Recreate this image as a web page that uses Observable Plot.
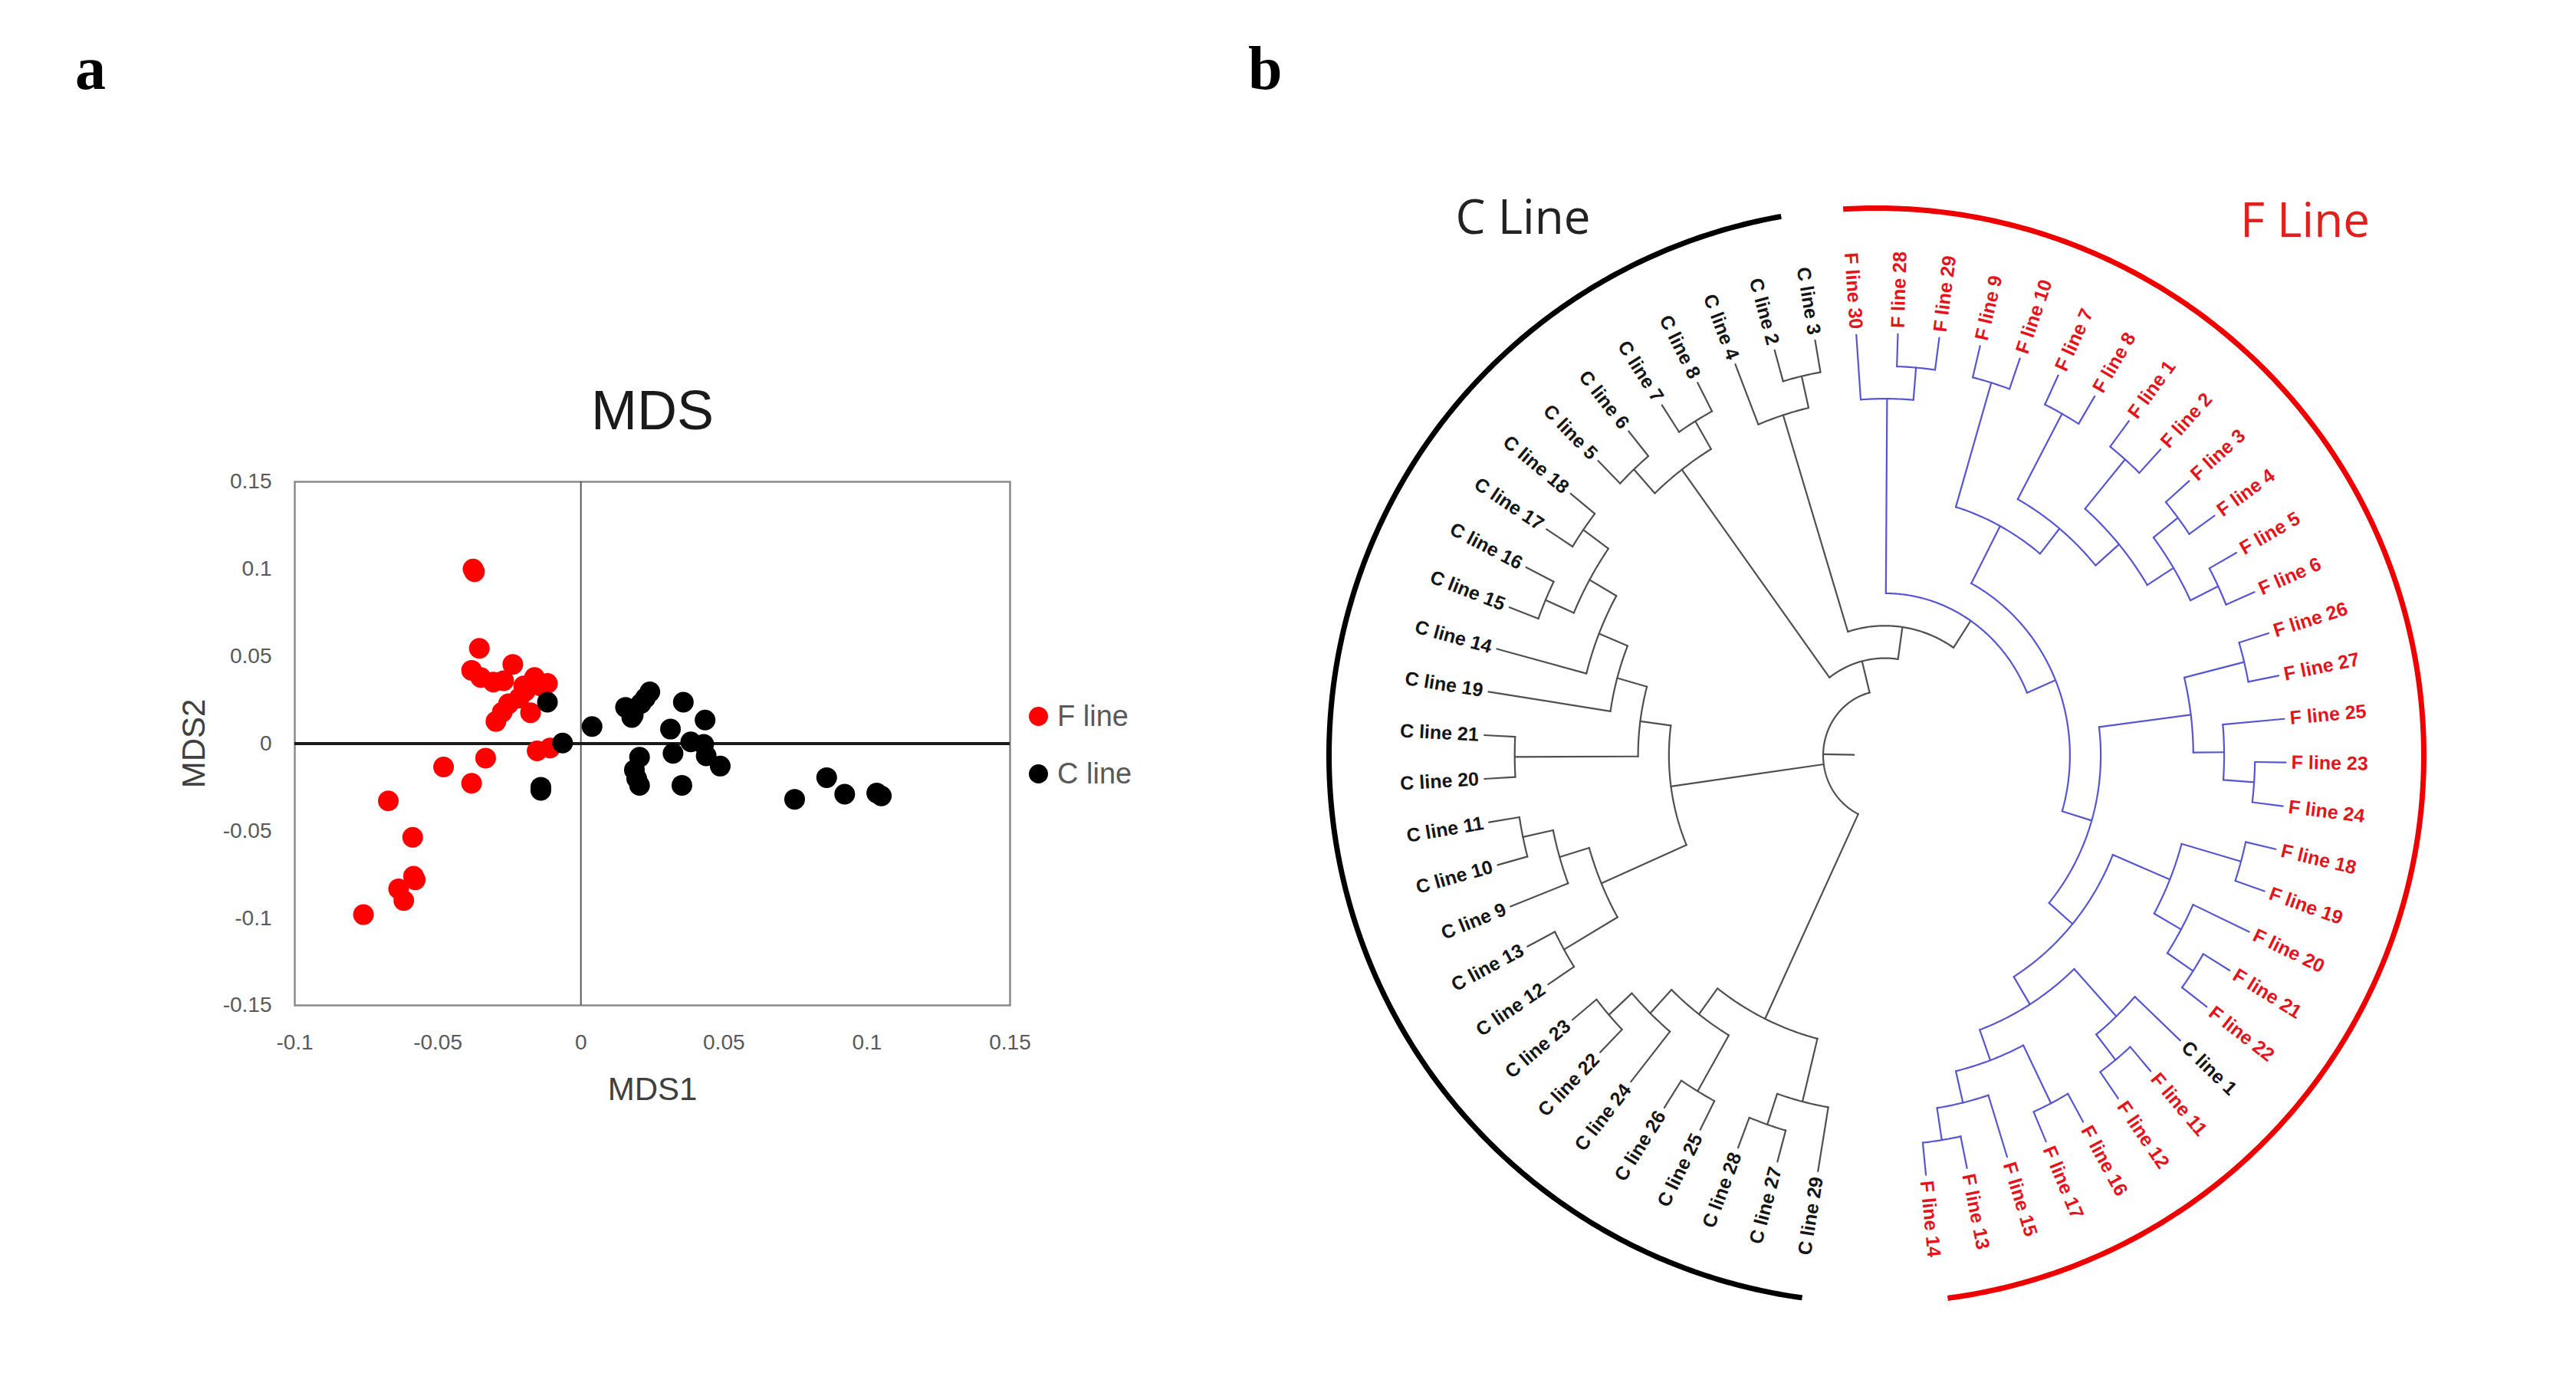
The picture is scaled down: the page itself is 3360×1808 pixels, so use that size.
<!DOCTYPE html>
<html>
<head>
<meta charset="utf-8">
<script src="https://cdn.jsdelivr.net/npm/d3@7"></script>
<script src="https://cdn.jsdelivr.net/npm/@observablehq/plot@0.6"></script>
<style>
html,body{margin:0;padding:0;background:#fff;}
body{width:3360px;height:1808px;position:relative;overflow:hidden;font-family:"Liberation Sans",Arial,sans-serif;}
.abs{position:absolute;}
.leg{position:absolute;left:1342px;display:flex;align-items:center;height:40px;font-size:38px;color:#595959;font-family:"Liberation Sans",Arial,sans-serif;}
.leg .sw{display:inline-block;width:25px;height:25px;border-radius:50%;margin-right:12px;}
</style>
</head>
<body>
<svg class="abs" style="left:0;top:0" width="3360" height="1808">
  <text x="98" y="116" font-family="Liberation Serif, Times New Roman, serif" font-weight="bold" font-size="80" fill="#000">a</text>
  <text x="1628" y="116" font-family="Liberation Serif, Times New Roman, serif" font-weight="bold" font-size="80" fill="#000">b</text>
</svg>
<div id="mds" class="abs" style="left:200px;top:440px;width:1350px;height:1040px"></div>
<div id="tree" class="abs" style="left:1650px;top:180px;width:1650px;height:1610px"></div>
<div class="leg" style="top:914px"><span class="sw" style="background:#ff0000"></span>F line</div>
<div class="leg" style="top:989px"><span class="sw" style="background:#000000"></span>C line</div>
<script>
// ================= Panel a : MDS data =================
const fLineMDS1 = [-0.0377,-0.0372,-0.0355,-0.0238,-0.0382,-0.0350,-0.0306,-0.0270,-0.0162,-0.0117,-0.0140,-0.0216,-0.0253,-0.0275,-0.0297,-0.0176,-0.0153,-0.0108,-0.0333,-0.0480,-0.0382,-0.0673,-0.0588,-0.0579,-0.0637,-0.0619,-0.0760,-0.0195,-0.0200,-0.0585];
const fLineMDS2 = [0.1000,0.0985,0.0546,0.0454,0.0420,0.0379,0.0353,0.0360,0.0379,0.0345,0.0330,0.0260,0.0228,0.0180,0.0127,0.0177,-0.0042,-0.0025,-0.0083,-0.0134,-0.0227,-0.0328,-0.0537,-0.0780,-0.0832,-0.0899,-0.0980,0.0300,0.0330,-0.0760];
const cLineMDS1 = [-0.0117,-0.0064,-0.0140,-0.0140,0.0039,0.0156,0.0183,0.0241,0.0210,0.0178,0.0358,0.0313,0.0434,0.0384,0.0429,0.0322,0.0438,0.0487,0.0205,0.0187,0.0205,0.0353,0.0747,0.0859,0.0922,0.1034,0.1050,0.0225,0.0195];
const cLineMDS2 = [0.0237,0.0003,-0.0268,-0.0250,0.0098,0.0208,0.0164,0.0296,0.0230,0.0149,0.0237,0.0083,0.0135,0.0010,-0.0004,-0.0056,-0.0070,-0.0129,-0.0078,-0.0151,-0.0239,-0.0239,-0.0319,-0.0195,-0.0290,-0.0283,-0.0300,0.0260,-0.0200];
const xTicks = [-0.1,-0.05,0,0.05,0.1,0.15];
const yTicks = [-0.15,-0.1,-0.05,0,0.05,0.1,0.15];

// ================= Panel b : dendrogram topology (leaf order clockwise from bottom) =================
const cladeCLower  = "((C29,(C27,C28)),((C25,C26),(C24,(C22,C23))))";
const cladeCMiddle = "(((C12,C13),(C9,(C10,C11))),((C20,C21),(C19,(C14,((C15,C16),(C17,C18))))))";
const cladeCUpperA = "((C5,C6),(C7,C8))";
const cladeCUpperB = "(C4,(C2,C3))";
const cladeFTop    = "(F30,(F28,F29))";
const cladeF1to10  = "((F9,F10),((F7,F8),((F1,F2),((F3,F4),(F5,F6)))))";
const cladeF23to27 = "((F26,F27),(F25,(F23,F24)))";
const cladeF11to22 = "(((F18,F19),(F20,(F21,F22))),((C1,(F11,F12)),((F16,F17),(F15,(F13,F14)))))";
const groupNames = ["C Line", "F Line"];

// ---------- scatter ----------
const fData = fLineMDS1.map((x, i) => ({x, y: fLineMDS2[i]}));
const cData = cLineMDS1.map((x, i) => ({x, y: cLineMDS2[i]}));
const fmt = d => String(d);

const mds = Plot.plot({
  width: 1350, height: 1040,
  marginLeft: 184, marginRight: 233, marginTop: 188, marginBottom: 169,
  style: {background: "transparent", fontFamily: "Liberation Sans, Arial, sans-serif", maxWidth: "none", overflow: "visible"},
  x: {domain: [-0.1, 0.15]},
  y: {domain: [-0.15, 0.15]},
  marks: [
    Plot.frame({stroke: "#8a8a8a", strokeWidth: 2.5}),
    Plot.ruleX([0], {stroke: "#5a5a5a", strokeWidth: 2}),
    Plot.ruleY([0], {stroke: "#1a1a1a", strokeWidth: 4}),
    Plot.dot(fData, {x: "x", y: "y", r: 13.5, fill: "#ff0000"}),
    Plot.dot(cData, {x: "x", y: "y", r: 13.5, fill: "#000000"}),
    Plot.axisX(xTicks, {tickSize: 0, tickPadding: 38, fontSize: 28, color: "#595959", tickFormat: fmt, label: null}),
    Plot.axisY(yTicks, {tickSize: 0, tickPadding: 30, fontSize: 28, color: "#595959", tickFormat: fmt, label: null}),
    Plot.text(["MDS"], {frameAnchor: "top", dy: -92, text: d => d, fontSize: 72, fill: "#1a1a1a", textAnchor: "middle", lineAnchor: "middle"}),
    Plot.text(["MDS1"], {frameAnchor: "bottom", dy: 110, text: d => d, fontSize: 42, fill: "#404040", textAnchor: "middle", lineAnchor: "middle"}),
    Plot.text(["MDS2"], {frameAnchor: "left", dx: -131, rotate: -90, text: d => d, fontSize: 42, fill: "#404040", textAnchor: "middle", lineAnchor: "middle"})
  ]
});
document.getElementById("mds").appendChild(mds);

// ---------- dendrogram layout ----------
function parseNewick(s) {
  let i = 0;
  function node() {
    if (s[i] === "(") {
      i++;
      const children = [];
      while (true) {
        children.push(node());
        if (s[i] === ",") { i++; continue; }
        if (s[i] === ")") { i++; break; }
        throw new Error("bad newick at " + i);
      }
      return {children};
    }
    const j = i;
    while (i < s.length && !",()".includes(s[i])) i++;
    return {name: s.slice(j, i)};
  }
  return node();
}
const cladeF = `(${cladeFTop},(${cladeF1to10},(${cladeF23to27},${cladeF11to22})))`;
const treeNewick = `(${cladeCLower},${cladeCMiddle},(${cladeCUpperA},(${cladeCUpperB},${cladeF})))`;
const root = parseNewick(treeNewick);

const firstLeafAngle = 189.6; // degrees clockwise from top
const leafStep = 5.94;

const leaves = [];
(function walk(n) { if (n.children) n.children.forEach(walk); else { n.idx = leaves.length; leaves.push(n); } })(root);
(function height(n) { return n.h = n.children ? 1 + Math.max(...n.children.map(height)) : 0; })(root);
(function ang(n) { return n.a = n.children ? d3.mean(n.children.map(ang)) : firstLeafAngle + n.idx * leafStep; })(root);
(function countF(n) { return n.nf = n.children ? d3.sum(n.children.map(countF)) : (n.name[0] === "F" ? 1 : 0); })(root);
(function countL(n) { return n.nl = n.children ? d3.sum(n.children.map(countL)) : 1; })(root);
const totalF = root.nf;
let fRoot = root;
(function findF(n) { if (n.nf === totalF && n.nl < fRoot.nl) fRoot = n; if (n.children) n.children.forEach(findF); })(root);

const depthUnits = root.h + 2;
const rho = n => 1 - n.h / depthUnits;
const pol = (r, a) => { const t = a * Math.PI / 180; return [r * Math.sin(t), r * Math.cos(t)]; };

const branches = [];
let sid = 0;
function addRadial(r0, r1, a, color) {
  const id = sid++;
  const [x0, y0] = pol(r0, a), [x1, y1] = pol(r1, a);
  branches.push({id, x: x0, y: y0, color}, {id, x: x1, y: y1, color});
}
function addArc(r, a0, a1, color) {
  const id = sid++;
  const n = Math.max(2, Math.ceil(Math.abs(a1 - a0) / 0.5));
  for (let k = 0; k <= n; k++) {
    const [x, y] = pol(r, a0 + (a1 - a0) * k / n);
    branches.push({id, x, y, color});
  }
}
const GRAY = "#4f4f4f", BLUE = "#5656d0";
function build(n, parent, inF) {
  const here = inF || n === fRoot;
  if (parent) addRadial(rho(parent), n.children ? rho(n) : 1, n.a, inF ? BLUE : GRAY);
  if (n.children) {
    const as = n.children.map(c => c.a);
    addArc(rho(n), d3.min(as), d3.max(as), here ? BLUE : GRAY);
    n.children.forEach(c => build(c, n, here));
  }
}
build(root, null, false);
// root edge stub
addRadial(1 - (root.h + 1) / depthUnits, rho(root), root.a, GRAY);

// pixel geometry of the panel
const W2 = 1650, H2 = 1610;
const kx = 523, ky = 550;          // px per unit radius
const cxPx = 808, cyPx = 805;      // centre inside the panel

const labelR = 1.014;
const labelText = id => `${id[0]} line ${id.slice(1)}`;
const labels = leaves.map(l => {
  const [x, y] = pol(labelR, l.a);
  const t = l.a * Math.PI / 180;
  const rotOut = Math.atan2(-ky * Math.cos(t), kx * Math.sin(t)) * 180 / Math.PI;
  const right = Math.sin(t) > 0;
  return {x, y, text: labelText(l.name), rot: right ? rotOut : rotOut + 180, right, isC: l.name[0] === "C"};
});

// group arcs (true circles in pixels)
const groupArcR = 714, groupArcOff = -11;
function groupArc(a0, a1, key) {
  const pts = [];
  const n = Math.ceil(Math.abs(a1 - a0) / 0.5);
  for (let k = 0; k <= n; k++) {
    const t = (a0 + (a1 - a0) * k / n) * Math.PI / 180;
    pts.push({key, x: (groupArcOff + groupArcR * Math.sin(t)) / kx, y: (groupArcR * Math.cos(t)) / ky});
  }
  return pts;
}
const cLeafAngles = leaves.filter(l => l.name[0] === "C" && l.name !== "C1").map(l => l.a);
const fLeafAngles = leaves.filter(l => l.name[0] === "F").map(l => l.a);
const blackArc = groupArc(d3.min(cLeafAngles) - 1.8, d3.max(cLeafAngles), "C");
const redArc = groupArc(d3.min(fLeafAngles) + 0.6, d3.max(fLeafAngles) - 1.6, "F");

const txt = {fontSize: 25, fontWeight: "bold", fontFamily: "Liberation Sans, Arial, sans-serif", lineAnchor: "middle"};
const tree = Plot.plot({
  width: W2, height: H2,
  marginLeft: 0, marginRight: 0, marginTop: 0, marginBottom: 0,
  style: {background: "transparent", maxWidth: "none", overflow: "visible"},
  x: {domain: [-cxPx / kx, (W2 - cxPx) / kx], axis: null},
  y: {domain: [-(H2 - cyPx) / ky, cyPx / ky], axis: null},
  marks: [
    Plot.line(blackArc, {x: "x", y: "y", stroke: "#000000", strokeWidth: 7, strokeLinecap: "butt"}),
    Plot.line(redArc, {x: "x", y: "y", stroke: "#ee0000", strokeWidth: 7, strokeLinecap: "butt"}),
    Plot.line(branches.filter(d => d.color === GRAY), {x: "x", y: "y", z: "id", stroke: GRAY, strokeWidth: 2.2, strokeLinejoin: "miter"}),
    Plot.line(branches.filter(d => d.color === BLUE), {x: "x", y: "y", z: "id", stroke: BLUE, strokeWidth: 2.2, strokeLinejoin: "miter"}),
    Plot.text(labels.filter(d => d.right && d.isC), {x: "x", y: "y", text: "text", rotate: "rot", textAnchor: "start", fill: "#151515", ...txt}),
    Plot.text(labels.filter(d => d.right && !d.isC), {x: "x", y: "y", text: "text", rotate: "rot", textAnchor: "start", fill: "#e3141b", ...txt}),
    Plot.text(labels.filter(d => !d.right && d.isC), {x: "x", y: "y", text: "text", rotate: "rot", textAnchor: "end", fill: "#151515", ...txt}),
    Plot.text(labels.filter(d => !d.right && !d.isC), {x: "x", y: "y", text: "text", rotate: "rot", textAnchor: "end", fill: "#e3141b", ...txt}),
    Plot.text([groupNames[0]], {frameAnchor: "top-left", dx: 336, dy: 105, text: d => d, textAnchor: "middle", lineAnchor: "middle", fontSize: 62, fontFamily: "Open Sans, Liberation Sans, sans-serif", fill: "#222222"}),
    Plot.text([groupNames[1]], {frameAnchor: "top-right", dx: -294, dy: 109, text: d => d, textAnchor: "middle", lineAnchor: "middle", fontSize: 62, fontFamily: "Open Sans, Liberation Sans, sans-serif", fill: "#e0201b"})
  ]
});
document.getElementById("tree").appendChild(tree);
</script>
</body>
</html>
